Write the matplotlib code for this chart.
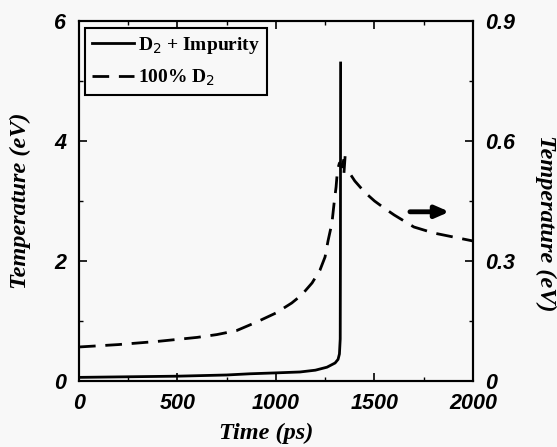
import matplotlib
matplotlib.use("Agg")
import matplotlib.pyplot as plt
from matplotlib.ticker import MultipleLocator

# Data
t_imp = [0, 250, 500, 750, 868, 1000, 1122, 1200, 1259, 1300, 1315, 1322, 1326, 1327, 1328]
T_imp = [0.06, 0.07, 0.08, 0.10, 0.12, 0.135, 0.15, 0.18, 0.23, 0.30, 0.36, 0.45, 0.7, 2.0, 5.3]

t_d2 = [0, 100, 200, 300, 400, 500, 600, 700, 800, 900, 1000, 1080, 1130, 1183, 1223,
        1249, 1264, 1284, 1295, 1305, 1312, 1322, 1335, 1352, 1345, 1360, 1380, 1400,
        1450, 1500, 1550, 1600, 1700, 1800, 1900, 2000]
T_d2 = [0.085, 0.088, 0.091, 0.095, 0.099, 0.104, 0.109, 0.116, 0.126, 0.147, 0.170,
        0.195, 0.215, 0.245, 0.277, 0.31, 0.35, 0.395, 0.445, 0.485, 0.527, 0.545, 0.535,
        0.57, 0.52, 0.525, 0.515, 0.50, 0.472, 0.45, 0.432, 0.415, 0.385, 0.37, 0.36, 0.35]

xticks = [0, 500, 1000, 1500, 2000]
yticks_left = [0, 2, 4, 6]
yticks_right = [0, 0.3, 0.6, 0.9]
ytl_right = ["0", "0.3", "0.6", "0.9"]

bg = "#f8f8f8"
fig = plt.figure(figsize=(5.57, 4.47), dpi=100, facecolor=bg)
ax = fig.add_axes([0.1418, 0.1477, 0.7074, 0.8053], facecolor=bg)
ax2 = ax.twinx()

tickfont = dict(family="Liberation Sans", weight="bold", style="italic", size=15.5)
labfont = dict(family="Liberation Serif", weight="bold", style="italic", size=17.5)

l1, = ax.plot(t_imp, T_imp, color="black", lw=2.0, label=r"D$_2$ + Impurity")
l2, = ax2.plot(t_d2, T_d2, color="black", lw=2.0, ls=(0, (6, 3.5)), label=r"100% D$_2$")

ax.set_xlim(0, 2000)
ax.set_ylim(0, 6)
ax2.set_ylim(0, 0.9)

ax.set_xticks(xticks)
ax.set_xticklabels([str(v) for v in xticks], fontdict=tickfont)
ax.set_yticks(yticks_left)
ax.set_yticklabels([str(v) for v in yticks_left], fontdict=tickfont)
ax2.set_yticks(yticks_right)
ax2.set_yticklabels(ytl_right, fontdict=tickfont)

ax.xaxis.set_minor_locator(MultipleLocator(250))
ax.yaxis.set_minor_locator(MultipleLocator(1))
ax2.yaxis.set_minor_locator(MultipleLocator(0.15))

ax.tick_params(axis="x", which="both", direction="in", top=True, bottom=True, pad=9)
ax.tick_params(axis="y", which="both", direction="in", left=True, right=False, pad=9)
ax2.tick_params(axis="y", which="both", direction="in", right=True, pad=9)
for a in (ax, ax2):
    a.tick_params(which="major", length=6, width=1.2)
    a.tick_params(which="minor", length=3, width=1.0)
    for s in a.spines.values():
        s.set_linewidth(1.5)

ax.set_xlabel("Time (ps)", fontdict=labfont)
ax.xaxis.set_label_coords(0.475, -0.115)
ax.set_ylabel("Temperature (eV)", fontdict=labfont)
ax.yaxis.set_label_coords(-0.122, 0.5)
fig.text(546 / 557, 0.5, "Temperature (eV)", rotation=-90, ha="center", va="center",
         **{k: v for k, v in labfont.items()})

leg = ax.legend(handles=[l1, l2], loc="upper left", bbox_to_anchor=(0.015, 0.98),
                prop=dict(family="Liberation Serif", weight="bold", size=14),
                frameon=True, fancybox=False, edgecolor="black", framealpha=1,
                facecolor=bg, handlelength=2.2, handletextpad=0.2, borderpad=0.35,
                labelspacing=0.6, borderaxespad=0)
leg.get_frame().set_linewidth(1.5)

ax.annotate("", xy=(1880, 2.82), xytext=(1680, 2.82),
            arrowprops=dict(arrowstyle="-|>,head_length=0.8,head_width=0.35",
                            color="black", lw=3.5, shrinkA=0, shrinkB=0))

fig.savefig("out.png", dpi=100, facecolor=bg)
